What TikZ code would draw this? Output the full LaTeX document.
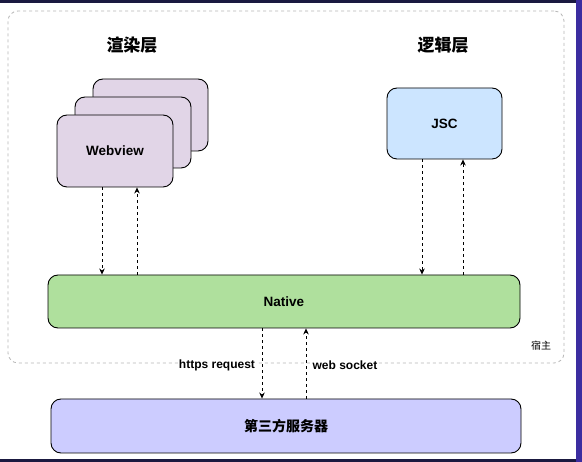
\documentclass[tikz,border=0pt]{standalone}
\usepackage{fontspec}
\setmainfont{Liberation Sans}
\newfontfamily\cjk{Noto Sans CJK SC}
\usetikzlibrary{arrows.meta}
\definecolor{webfill}{HTML}{E1D5E7}
\definecolor{jscfill}{HTML}{CCE5FF}
\definecolor{natfill}{HTML}{AFE09D}
\definecolor{srvfill}{HTML}{CCCCFF}
\definecolor{hostline}{HTML}{B8B8B8}
\definecolor{bandtop}{HTML}{1A1940}
\definecolor{bandright}{HTML}{3B2DA0}
\tikzset{
  box/.style={draw=black, line width=0.9pt, rounded corners=10pt, inner sep=0pt, font=\bfseries},
  arr/.style={draw=black, line width=0.8pt, dash pattern=on 3pt off 3pt, -{Stealth[length=6pt,width=5.5pt]}},
  title/.style={font=\cjk\bfseries\fontsize{17}{17}\selectfont},
  lbl/.style={font=\bfseries\fontsize{12}{12}\selectfont, fill=white, inner sep=1pt}
}
\begin{document}
\begin{tikzpicture}[x=1pt,y=-1pt]
\useasboundingbox (0,0) rectangle (582,462);
\fill[white] (0,0) rectangle (582,462);
\fill[bandtop] (0,0) rectangle (582,3);
\fill[bandtop] (0,459) rectangle (582,462);
\fill[bandright] (576,0) rectangle (582,462);
% host container
\node[draw=hostline, line width=0.8pt, dash pattern=on 3pt off 3pt, rounded corners=10pt,
      minimum width=556pt, minimum height=352pt, inner sep=0pt] (host) at (286,187) {};
\node[font=\cjk\fontsize{10}{10}\selectfont] (hostlbl) at (541,346) {宿主};
% titles
\node[title] (t1) at (132,45) {渲染层};
\node[title] (t2) at (443,45) {逻辑层};
% webview stack
\node[box, fill=webfill, minimum width=115pt, minimum height=72pt] (wb3) at (150.5,115) {};
\node[box, fill=webfill, minimum width=116pt, minimum height=71pt] (wb2) at (133,132.5) {};
\node[box, fill=webfill, minimum width=116pt, minimum height=72pt, font=\bfseries\fontsize{13.5}{13.5}\selectfont] (web) at (115,151) {Webview};
% JSC
\node[box, fill=jscfill, minimum width=115pt, minimum height=71pt, font=\bfseries\fontsize{13.5}{13.5}\selectfont] (jsc) at (444.5,123.5) {JSC};
% Native
\node[box, fill=natfill, minimum width=472pt, minimum height=53pt, font=\bfseries\fontsize{13.5}{13.5}\selectfont] (nat) at (284,301.5) {Native};
% server
\node[box, fill=srvfill, minimum width=470pt, minimum height=54pt, font=\cjk\bfseries\fontsize{14}{14}\selectfont] (srv) at (286,426) {第三方服务器};
% arrows webview <-> native
\draw[arr] ([xshift=-13pt]web.south) -- ([xshift=-13pt]web.south |- nat.north);
\draw[arr] ([xshift=22pt]web.south |- nat.north) -- ([xshift=22pt]web.south);
% arrows jsc <-> native
\draw[arr] ([xshift=-22.5pt]jsc.south) -- ([xshift=-22.5pt]jsc.south |- nat.north);
\draw[arr] ([xshift=18.5pt]jsc.south |- nat.north) -- ([xshift=18.5pt]jsc.south);
% arrows native <-> server
\draw[arr] ([xshift=-22pt]nat.south) -- ([xshift=-22pt]nat.south |- srv.north);
\draw[arr] ([xshift=22pt]nat.south |- srv.north) -- ([xshift=22pt]nat.south);
\node[lbl] (l1) at (217,365) {https request};
\node[lbl] (l2) at (345,365) {web socket};
\end{tikzpicture}
\end{document}
